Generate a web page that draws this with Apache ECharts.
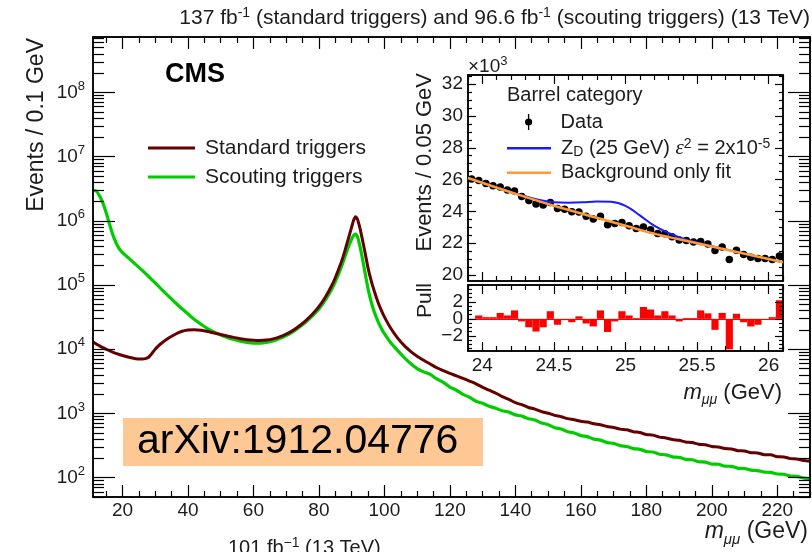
<!DOCTYPE html>
<html>
<head>
<meta charset="utf-8">
<script src="https://cdn.jsdelivr.net/npm/echarts@6/dist/echarts.min.js"></script>
<style>
html,body{margin:0;padding:0;background:#fff;}
#chart{width:812px;height:552px;}
</style>
</head>
<body>
<div id="chart"></div>
<script>
// ---------------- main spectrum: Events / 0.1 GeV ----------------
const massGeV = [11,12,13,14,15,16,17,18,19,20,22,24,26,27,28,29,30,31,32,
  34,36,38,40,42,44,46,48,50,52,54,56,58,60,62,64,66,68,70,72,74,76,78,80,82,
  84,85,86,87,88,89,90,90.6,91.2,91.8,92.4,93,94,95,96,97,98,99,100,102,104,106,108,
  110,112,114,116,118,120,122,124,126,128,130,132,134,136,138,140,142,144,146,148,
  150,152,154,156,158,160,162,164,166,168,170,172,174,176,178,180,182,184,186,188,
  190,192,194,196,198,200,202,204,206,208,210,212,214,216,218,220,222,224,226,228,230];

const standardTriggers = [13000,12100,11300,10600,10000,9500,9050,8650,8300,8000,
  7500,7100,7050,7150,7500,8600,10000,11300,12500,
  14800,17000,18900,19900,20100,19700,18900,17900,17000,16100,15300,14600,14100,13800,13700,13900,14500,15600,17200,19500,23000,28000,35000,46000,65000,
  100000,130000,175000,240000,350000,530000,800000,1020000,1160000,1050000,820000,600000,
  340000,185000,115000,78000,55000,41000,32000,21000,15000,11500,9300,
  7800,6750,5900,5150,4650,4200,3850,3520,3200,2900,
  2550,2300,2080,1830,1660,1470,1370,1240,1170,1070,
  1010,935,890,830,800,755,735,690,665,625,
  605,570,556,520,505,470,460,428,416,392,
  382,360,352,331,326,306,301,284,280,263,
  261,245,243,228,227,212,210,198,196,185,180];

const scoutingTriggers = [3000000,2900000,2450000,1900000,1350000,900000,620000,460000,370000,320000,
  260000,210000,170000,152000,136000,121000,108000,96000,85000,
  68000,54000,43500,35500,29000,24500,21000,18500,16700,15300,14200,13400,12800,12500,12500,12800,13500,14700,16300,18600,22000,26500,33000,42500,59000,
  88000,112000,148000,200000,280000,390000,520000,590000,620000,560000,430000,310000,
  165000,88000,54000,37000,27500,21500,17500,12500,9600,7500,6000,
  5000,4450,4050,3450,3050,2580,2300,1980,1790,1550,
  1440,1290,1210,1100,1050,950,910,830,790,710,
  670,600,572,518,496,452,436,398,385,352,
  342,315,306,284,276,256,251,232,227,211,
  207,193,190,177,175,163,162,151,150,140,
  139,131,129,122,121,114,113,106,105,99,96];

const mainXTicks = [20,40,60,80,100,120,140,160,180,200,220];
const mainXMinorTicks = [15,25,30,35,45,50,55,65,70,75,85,90,95,105,110,115,125,130,135,
  145,150,155,165,170,175,185,190,195,205,210,215,225,230];
const mainYTicks = [1e2,1e3,1e4,1e5,1e6,1e7,1e8];

// ---------------- inset: barrel category, Events / 0.05 GeV (x10^3) ----------------
const insetBinCenters = [23.925,23.975,24.025,24.075,24.125,24.175,24.225,24.275,24.325,24.375,
  24.425,24.475,24.525,24.575,24.625,24.675,24.725,24.775,24.825,24.875,
  24.925,24.975,25.025,25.075,25.125,25.175,25.225,25.275,25.325,25.375,
  25.425,25.475,25.525,25.575,25.625,25.675,25.725,25.775,25.825,25.875,
  25.925,25.975,26.025,26.075];
const barrelEvents = [26.03,25.94,25.76,25.61,25.54,25.34,25.29,24.94,24.69,24.46,
  24.40,24.56,24.18,24.14,23.98,23.96,23.70,23.52,23.70,23.16,
  23.24,23.30,23.10,22.93,23.01,22.84,22.61,22.59,22.41,22.20,
  22.17,22.07,22.11,21.95,21.54,21.76,20.97,21.55,21.29,21.11,
  21.04,21.03,20.98,21.20];
const pullValues = [-0.05,0.4,0.2,0.2,0.7,0.4,1.0,-0.3,-1.0,-1.5,
  -1.0,0.9,-0.7,-0.15,-0.4,0.3,-0.55,-0.9,1.0,-1.55,
  -0.3,0.9,0.4,0.1,1.4,1.1,0.4,0.9,0.4,-0.3,
  0.1,0.1,1.0,0.65,-1.3,0.7,-3.6,0.6,-0.4,-0.9,
  -0.7,-0.1,0.2,2.2];
const fitMass = [23.9,24.2,24.5,24.8,25.0,25.2,25.5,25.8,26.1];
const backgroundFit = [26.1,25.2,24.35,23.6,23.1,22.6,22.0,21.4,20.8];
const signalMass = [23.9,24.2,24.3,24.4,24.5,24.6,24.7,24.8,24.9,25.0,25.1,25.2,25.3,25.4,25.5,25.8,26.1];
const signalFit = [26.1,25.2,24.95,24.72,24.58,24.55,24.57,24.62,24.6,24.35,23.75,23.1,22.65,22.3,22.05,21.4,20.8];

const insetXTicks = [24,24.5,25,25.5,26];
const insetYTicks = [20,22,24,26,28,30,32];
const pullYTicks = [-2,0,2];
const pullYOuterLabels = [-2,2];
const pullYCenterLabel = [0];

// ---------------- helpers (ticks only) ----------------
function steps(a, b, st) { const out = []; for (let i = 0; ; i++) { const v = Math.round((a + i * st) * 1000) / 1000; if (v > b + 1e-9) break; out.push(v); } return out; }
function without(list, skip) { return list.filter(v => !skip.some(s => Math.abs(s - v) < 1e-6)); }
const mainYMinorTicks = [];
for (let n = 1; n <= 8; n++) for (let k = 2; k <= 9; k++) { const v = k * Math.pow(10, n); if (v >= 50 && v <= 7.3e8) mainYMinorTicks.push(v); }
const insetXMinorTicks = without(steps(23.9, 26.1, 0.1), insetXTicks);
const insetYMinorTicks = without(steps(19.5, 32.5, 0.5), insetYTicks).filter(v => v > 19.62);
const pullYMinorTicks = without(steps(-3.5, 4.0, 0.5), pullYTicks);

const FONT = "'Liberation Sans', Arial, Helvetica, sans-serif";
const INK = '#000';
const TXT = '#1c1c1c';

function frameAxis(o) {
  const ax = {
    type: o.type || 'value', gridIndex: o.grid, position: o.pos, min: o.min, max: o.max,
    axisLine: { show: true, onZero: false, lineStyle: { color: INK, width: 1.5 } },
    axisTick: { show: true, inside: true, length: o.len, customValues: o.ticks, lineStyle: { color: INK, width: 1.2 } },
    axisLabel: o.label ? Object.assign({ customValues: o.labels || o.ticks, color: TXT, fontFamily: FONT, hideOverlap: false }, o.label) : { show: false },
    splitLine: { show: false }, minorTick: { show: false }, minorSplitLine: { show: false }, z: 5
  };
  if (ax.type === 'log') ax.logBase = 10;
  return ax;
}

const logLabel = {
  fontSize: 19, margin: 8,
  formatter: v => '{b|10}{s|' + Math.round(Math.log10(v)) + '}',
  rich: {
    b: { fontSize: 19, lineHeight: 26, fontFamily: FONT, color: TXT },
    s: { fontSize: 13, lineHeight: 13, verticalAlign: 'top', fontFamily: FONT, color: TXT }
  }
};
const pullLabel = { fontSize: 19, margin: 5, formatter: v => v < 0 ? '\u2212' + (-v) : String(v) };

const xAxes = [
  // main grid 0
  frameAxis({ grid: 0, pos: 'bottom', min: 11, max: 230, ticks: mainXTicks, len: 12, label: { fontSize: 19, margin: 4 } }),
  frameAxis({ grid: 0, pos: 'bottom', min: 11, max: 230, ticks: mainXMinorTicks, len: 6 }),
  frameAxis({ grid: 0, pos: 'top', min: 11, max: 230, ticks: mainXTicks, len: 12 }),
  frameAxis({ grid: 0, pos: 'top', min: 11, max: 230, ticks: mainXMinorTicks, len: 6 }),
  // inset upper grid 1
  frameAxis({ grid: 1, pos: 'bottom', min: 23.9, max: 26.1, ticks: insetXTicks, len: 9 }),
  frameAxis({ grid: 1, pos: 'bottom', min: 23.9, max: 26.1, ticks: insetXMinorTicks, len: 5 }),
  frameAxis({ grid: 1, pos: 'top', min: 23.9, max: 26.1, ticks: insetXTicks, len: 9 }),
  frameAxis({ grid: 1, pos: 'top', min: 23.9, max: 26.1, ticks: insetXMinorTicks, len: 5 }),
  // inset pull grid 2
  frameAxis({ grid: 2, pos: 'bottom', min: 23.9, max: 26.1, ticks: insetXTicks, len: 9, label: { fontSize: 19, margin: 5 } }),
  frameAxis({ grid: 2, pos: 'bottom', min: 23.9, max: 26.1, ticks: insetXMinorTicks, len: 5 }),
  frameAxis({ grid: 2, pos: 'top', min: 23.9, max: 26.1, ticks: insetXTicks, len: 9 }),
  frameAxis({ grid: 2, pos: 'top', min: 23.9, max: 26.1, ticks: insetXMinorTicks, len: 5 }),
  // category axis for the pull histogram bins
  { type: 'category', gridIndex: 2, data: insetBinCenters.map(String), show: false, boundaryGap: true, axisLine: { onZero: false } }
];

const yAxes = [
  frameAxis({ grid: 0, pos: 'left', type: 'log', min: 50, max: 7.3e8, ticks: mainYTicks, len: 22, label: logLabel }),
  frameAxis({ grid: 0, pos: 'left', type: 'log', min: 50, max: 7.3e8, ticks: mainYMinorTicks, len: 11 }),
  frameAxis({ grid: 0, pos: 'right', type: 'log', min: 50, max: 7.3e8, ticks: mainYTicks, len: 22 }),
  frameAxis({ grid: 0, pos: 'right', type: 'log', min: 50, max: 7.3e8, ticks: mainYMinorTicks, len: 11 }),
  frameAxis({ grid: 1, pos: 'left', min: 19.62, max: 32.58, ticks: insetYTicks, len: 8, label: { fontSize: 19, margin: 5 } }),
  frameAxis({ grid: 1, pos: 'left', min: 19.62, max: 32.58, ticks: insetYMinorTicks, len: 4 }),
  frameAxis({ grid: 1, pos: 'right', min: 19.62, max: 32.58, ticks: insetYTicks, len: 8 }),
  frameAxis({ grid: 1, pos: 'right', min: 19.62, max: 32.58, ticks: insetYMinorTicks, len: 4 }),
  frameAxis({ grid: 2, pos: 'left', min: -3.8, max: 4.0, ticks: pullYTicks, len: 8, labels: pullYOuterLabels, label: pullLabel }),
  frameAxis({ grid: 2, pos: 'left', min: -3.8, max: 4.0, ticks: pullYMinorTicks, len: 4, labels: pullYCenterLabel, label: pullLabel }),
  frameAxis({ grid: 2, pos: 'right', min: -3.8, max: 4.0, ticks: pullYTicks, len: 8 }),
  frameAxis({ grid: 2, pos: 'right', min: -3.8, max: 4.0, ticks: pullYMinorTicks, len: 4 })
];

const zip = (xs, ys) => xs.map((x, i) => [x, ys[i]]);
const DATA_ICON = 'path://M4.35,0 H5.65 V16 H4.35 Z M8.6,8 A3.6,3.6 0 1 1 1.4,8 A3.6,3.6 0 1 1 8.6,8 Z';

const supRich = (base, size) => ({
  s: { fontSize: size, lineHeight: size, verticalAlign: 'top', fontFamily: FONT, fill: TXT, color: TXT },
  sub: { fontSize: size, lineHeight: size, verticalAlign: 'bottom', fontFamily: FONT, fontStyle: 'italic', fill: TXT, color: TXT },
  i: { fontSize: base, fontStyle: 'italic', fontFamily: FONT, fill: TXT, color: TXT }
});

const option = {
  animation: false,
  backgroundColor: '#fff',
  textStyle: { fontFamily: FONT },
  grid: [
    { left: 93, top: 37, width: 717, height: 460 },
    { left: 468, top: 75, width: 315, height: 206 },
    { left: 468, top: 285, width: 315, height: 66 }
  ],
  xAxis: xAxes,
  yAxis: yAxes,
  legend: [
    {
      data: ['Standard triggers', 'Scouting triggers'], orient: 'vertical', left: 148, top: 137, padding: 0,
      icon: 'rect', itemWidth: 47, itemHeight: 3, itemGap: 7, selectedMode: false,
      textStyle: { fontSize: 21, lineHeight: 22, color: TXT, fontFamily: FONT, padding: [0, 0, 0, 5] }
    },
    {
      data: [{ name: 'Data', icon: DATA_ICON }], left: 525, top: 111, padding: 0,
      itemWidth: 8, itemHeight: 16, selectedMode: false,
      textStyle: { fontSize: 20, lineHeight: 22, color: TXT, fontFamily: FONT, padding: [0, 0, 0, 23] }
    },
    {
      data: ['ZD', 'Background only fit'], orient: 'vertical', left: 507, top: 137.3, padding: 0,
      icon: 'rect', itemWidth: 44, itemHeight: 2.5, itemGap: 2.4, selectedMode: false,
      formatter: name => name === 'ZD' ? 'Z{sub|D} (25 GeV) {eps|\u03b5}{s|2} = 2x10{s|-5}' : name,
      textStyle: {
        fontSize: 20, lineHeight: 22, color: TXT, fontFamily: FONT, padding: [0, 0, 0, 5],
        rich: {
          sub: { fontSize: 14, lineHeight: 14, verticalAlign: 'bottom', color: TXT, fontFamily: FONT },
          s: { fontSize: 14, lineHeight: 14, verticalAlign: 'top', color: TXT, fontFamily: FONT },
          eps: { fontSize: 21, fontStyle: 'italic', fontFamily: "'Liberation Serif', serif", color: TXT }
        }
      }
    }
  ],
  series: [
    {
      name: 'Scouting triggers', type: 'line', xAxisIndex: 0, yAxisIndex: 0,
      data: zip(massGeV, scoutingTriggers), symbol: 'none', smooth: 0.25,
      lineStyle: { color: '#00cc00', width: 3.2 }, itemStyle: { color: '#00cc00' }, z: 3
    },
    {
      name: 'Standard triggers', type: 'line', xAxisIndex: 0, yAxisIndex: 0,
      data: zip(massGeV, standardTriggers), symbol: 'none', smooth: 0.25,
      lineStyle: { color: '#650000', width: 3 }, itemStyle: { color: '#650000' }, z: 4
    },
    {
      name: 'Data', type: 'scatter', xAxisIndex: 4, yAxisIndex: 4,
      data: zip(insetBinCenters, barrelEvents), symbol: 'circle', symbolSize: 7.5,
      itemStyle: { color: '#000', opacity: 1 }, z: 3
    },
    {
      name: 'ZD', type: 'line', xAxisIndex: 4, yAxisIndex: 4,
      data: zip(signalMass, signalFit), symbol: 'none', smooth: 0.4,
      lineStyle: { color: '#1a1aff', width: 2 }, itemStyle: { color: '#1a1aff' }, z: 4
    },
    {
      name: 'Background only fit', type: 'line', xAxisIndex: 4, yAxisIndex: 4,
      data: zip(fitMass, backgroundFit), symbol: 'none', smooth: 0.4,
      lineStyle: { color: '#ff9933', width: 2.5 }, itemStyle: { color: '#ff9933' }, z: 5
    },
    {
      name: 'Pull', type: 'bar', xAxisIndex: 12, yAxisIndex: 8,
      data: pullValues, barCategoryGap: '0%', barGap: '0%',
      itemStyle: { color: '#ff0000' },
      markLine: { silent: true, symbol: 'none', label: { show: false }, lineStyle: { color: '#ff0000', width: 1, type: 'solid' }, data: [{ yAxis: 0 }] }
    }
  ],
  graphic: [
    { type: 'text', x: 810, y: 18, style: { text: '137 fb{s|-1} (standard triggers) and 96.6 fb{s|-1} (scouting triggers) (13 TeV)', align: 'right', verticalAlign: 'middle', fontSize: 21, lineHeight: 24, fontFamily: FONT, fill: TXT, rich: supRich(21, 14) } },
    { type: 'text', x: 165, y: 75, style: { text: 'CMS', fontSize: 27, fontWeight: 'bold', fontFamily: FONT, fill: '#000', verticalAlign: 'middle' } },
    { type: 'text', x: 36.7, y: 38, rotation: Math.PI / 2, style: { text: 'Events / 0.1 GeV', fontSize: 23, align: 'right', verticalAlign: 'middle', fontFamily: FONT, fill: TXT } },
    { type: 'text', x: 808, y: 532, style: { text: '{i|m}{sub|\u03bc\u03bc} (GeV)', fontSize: 23, lineHeight: 30, align: 'right', verticalAlign: 'middle', fontFamily: FONT, fill: TXT, rich: supRich(23, 15) } },
    { type: 'rect', shape: { x: 123, y: 418, width: 360, height: 48 }, style: { fill: '#fdc894' } },
    { type: 'text', x: 137, y: 442, style: { text: 'arXiv:1912.04776', fontSize: 41, verticalAlign: 'middle', fontFamily: FONT, fill: '#000' } },
    { type: 'text', x: 228, y: 548, style: { text: '101 fb{s|\u22121} (13 TeV)', fontSize: 20, lineHeight: 24, verticalAlign: 'middle', fontFamily: FONT, fill: TXT, rich: supRich(20, 14) } },
    { type: 'text', x: 468, y: 67, style: { text: '\u00d710{s|3}', fontSize: 19, lineHeight: 24, verticalAlign: 'middle', fontFamily: FONT, fill: TXT, rich: supRich(19, 13) } },
    { type: 'text', x: 507, y: 95, style: { text: 'Barrel category', fontSize: 20, verticalAlign: 'middle', fontFamily: FONT, fill: TXT } },
    { type: 'text', x: 425, y: 73, rotation: Math.PI / 2, style: { text: 'Events / 0.05 GeV', fontSize: 22, align: 'right', verticalAlign: 'middle', fontFamily: FONT, fill: TXT } },
    { type: 'text', x: 425, y: 283, rotation: Math.PI / 2, style: { text: 'Pull', fontSize: 21, align: 'right', verticalAlign: 'middle', fontFamily: FONT, fill: TXT } },
    { type: 'text', x: 782, y: 393, style: { text: '{i|m}{sub|\u03bc\u03bc} (GeV)', fontSize: 22, lineHeight: 28, align: 'right', verticalAlign: 'middle', fontFamily: FONT, fill: TXT, rich: supRich(22, 14) } }
  ]
};

const chart = echarts.init(document.getElementById('chart'), null, { renderer: 'canvas' });
chart.setOption(option);
</script>
</body>
</html>
